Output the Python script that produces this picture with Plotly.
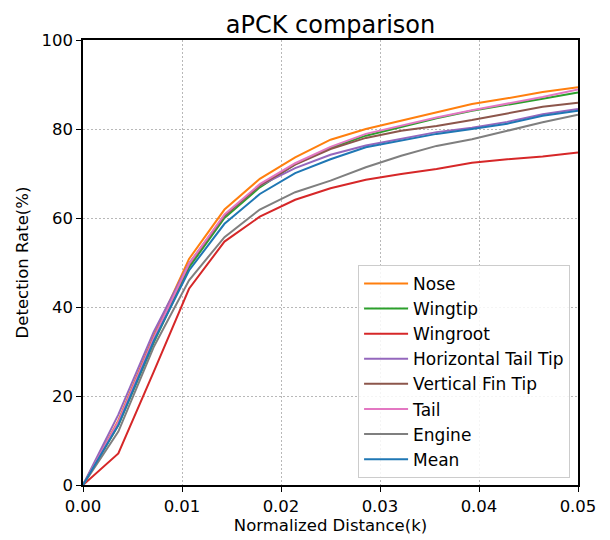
import plotly.graph_objects as go

x_vals = [0, 0.00357, 0.00714, 0.01071, 0.01429, 0.01786, 0.02143, 0.025,
          0.02857, 0.03214, 0.03571, 0.03929, 0.04286, 0.04643, 0.05]

nose = [0, 14.5, 33.5, 50.8, 61.9, 68.8, 73.6, 77.6, 80.0, 81.9, 83.7, 85.6, 86.9, 88.3, 89.4]
wingtip = [0, 13.5, 32.0, 48.9, 60.0, 66.9, 72.1, 75.7, 78.5, 80.5, 82.4, 84.1, 85.4, 86.8, 88.2]
wingroot = [0, 7.1, 25.4, 44.1, 54.7, 60.3, 64.1, 66.7, 68.6, 69.9, 71.0, 72.4, 73.2, 73.8, 74.7]
htail = [0, 15.8, 34.4, 49.8, 60.5, 67.3, 71.2, 74.2, 76.3, 77.8, 79.3, 80.3, 81.6, 83.3, 84.5]
vfin = [0, 14.0, 33.0, 49.5, 60.5, 67.3, 72.0, 75.5, 78.0, 79.6, 80.7, 82.0, 83.5, 85.0, 85.9]
tail = [0, 14.2, 33.0, 49.7, 60.8, 67.6, 72.3, 76.0, 78.9, 80.7, 82.6, 84.2, 85.7, 87.2, 88.9]
engine = [0, 12.0, 31.0, 46.0, 55.7, 61.9, 65.8, 68.4, 71.4, 74.0, 76.2, 77.7, 79.6, 81.5, 83.2]
mean = [0, 13.5, 32.3, 48.2, 58.7, 65.4, 70.1, 73.2, 75.9, 77.4, 78.9, 80.0, 81.2, 83.0, 84.1]

names = ["Nose", "Wingtip", "Wingroot", "Horizontal Tail Tip", "Vertical Fin Tip",
         "Tail", "Engine", "Mean"]
series = [nose, wingtip, wingroot, htail, vfin, tail, engine, mean]
colors = ["#ff7f0e", "#2ca02c", "#d62728", "#9467bd", "#8c564b", "#e377c2", "#7f7f7f", "#1f77b4"]

tick_x = [0, 0.01, 0.02, 0.03, 0.04, 0.05]
tick_x_text = ["0.00", "0.01", "0.02", "0.03", "0.04", "0.05"]
tick_y = [0, 20, 40, 60, 80, 100]

fig = go.Figure()
for n, s, c in zip(names, series, colors):
    fig.add_trace(go.Scatter(x=x_vals, y=s, mode="lines", name=n,
                             line=dict(color=c, width=2)))

font = "DejaVu Sans"
fig.update_layout(
    width=610, height=540,
    margin=dict(l=75, r=40, t=32, b=63),
    paper_bgcolor="white", plot_bgcolor="white",
    font=dict(family=font, size=16, color="black"),
    title=dict(text="aPCK comparison", xref="paper", x=0.5, xanchor="center",
               y=0.97, yanchor="middle", font=dict(size=24, family=font)),
    legend=dict(x=0.984, xanchor="right", y=0.016, yanchor="bottom",
                bgcolor="rgba(255,255,255,0.85)", bordercolor="#cccccc", borderwidth=1,
                font=dict(size=17, family=font), tracegroupgap=0, itemwidth=44),
    showlegend=True,
)
grid_dash = "1.5px,2.5px"
fig.update_xaxes(range=[0, 0.05], tickvals=tick_x, ticktext=tick_x_text,
                 showgrid=True, gridcolor="#b8b8b8", griddash=grid_dash, gridwidth=1,
                 showline=True, linecolor="black", linewidth=1.5, mirror=True,
                 ticks="outside", ticklen=5, tickcolor="black", zeroline=False,
                 tickfont=dict(size=16.5),
                 title=dict(text="Normalized Distance(k)", font=dict(size=16.5), standoff=4))
fig.update_yaxes(range=[0, 100], tickvals=tick_y,
                 showgrid=True, gridcolor="#b8b8b8", griddash=grid_dash, gridwidth=1,
                 showline=True, linecolor="black", linewidth=1.5, mirror=True,
                 ticks="outside", ticklen=5, tickcolor="black", zeroline=False,
                 tickfont=dict(size=16.5),
                 title=dict(text="Detection Rate(%)", font=dict(size=16.5), standoff=9))

fig.write_html("out.html")
